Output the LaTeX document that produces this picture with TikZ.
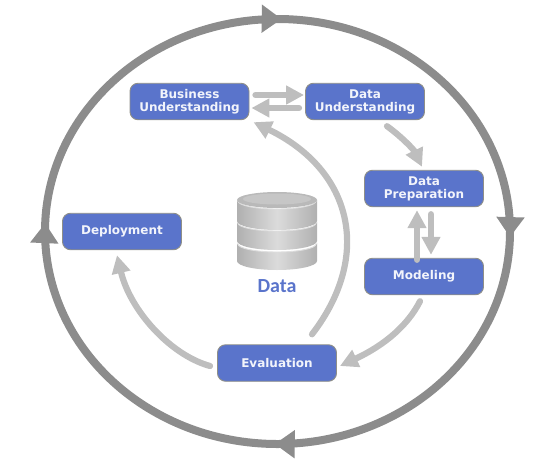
\documentclass[tikz,border=0pt]{standalone}
\usepackage{fontspec}
\setmainfont{DejaVu Sans}
\newfontfamily\datafont{Carlito}
\usepackage{tikz}
\usetikzlibrary{arrows.meta, calc, decorations.markings}
\definecolor{boxblue}{HTML}{5A74CB}
\definecolor{boxedge}{HTML}{8F8F88}
\definecolor{ringgray}{HTML}{8C8C8C}
\definecolor{flowgray}{HTML}{BEBEBE}
\tikzset{
  phasebox/.style={draw=boxedge, line width=0.9pt, fill=boxblue, rounded corners=8pt,
    minimum width=119pt, minimum height=36.5pt, inner sep=0pt, align=center,
    text=white!92!boxblue, font=\fontsize{12}{13}\selectfont\bfseries},
  flowarrow/.style={draw=flowgray, line width=6.2pt, line cap=round,
    -{Triangle[length=18pt,width=18pt,fill=flowgray]}},
  ringtip/.style={decoration={markings,
    mark=at position 0.004 with {\arrow{Triangle[length=20pt,width=27pt,ringgray]}},
    mark=at position 0.252 with {\arrow{Triangle[length=20pt,width=27pt,ringgray]}},
    mark=at position 0.506 with {\arrow{Triangle[length=20pt,width=27pt,ringgray]}},
    mark=at position 0.753 with {\arrow{Triangle[length=20pt,width=27pt,ringgray]}}},
    postaction={decorate}},
  diskside/.style={left color=gray!62, right color=gray!62, middle color=gray!28},
}
\begin{document}
\begin{tikzpicture}[x=1pt,y=-1pt]
\useasboundingbox (0,0) rectangle (545,471);
% Outer cycle
\draw[ringgray, line width=8pt, ringtip] (510,231.5) arc[start angle=0, end angle=360, x radius=232.5, y radius=212.5];
% Database stack
\foreach \top/\bottom in {243/261,222/241,200/221} {
  \fill[white] (236,\top-2) rectangle (318,\bottom);
  \path[diskside] (237,\top) -- (237,\bottom) arc[start angle=180, end angle=0, x radius=40, y radius=9] -- (317,\top) arc[start angle=0, end angle=180, x radius=40, y radius=9] -- cycle;
  \draw[white!75!gray, line width=0.9pt] (238,\top+1) arc[start angle=180, end angle=0, x radius=39, y radius=8];
}
\path[fill=gray!55] (277,200) ellipse[x radius=40, y radius=8];
\path[fill=gray!45] (277,199) ellipse[x radius=34, y radius=5.5];
\node[font=\fontsize{20}{20}\selectfont\bfseries\datafont, text=boxblue] (datalabel) at (277,286.5) {Data};
% Phases
\node[phasebox] (business) at (189.5,101.5) {Business\\Understanding};
\node[phasebox] (understanding) at (365,101.5) {Data\\Understanding};
\node[phasebox] (preparation) at (424,188.5) {Data\\Preparation};
\node[phasebox] (modeling) at (424,276.5) {Modeling};
\node[phasebox] (evaluation) at (277,363) {Evaluation};
\node[phasebox] (deployment) at (122,231.5) {Deployment};
% Flow between phases
\draw[flowarrow] ([xshift=6pt,yshift=6.5pt]business.east) -- ([xshift=-1pt,yshift=6.5pt]understanding.west);
\draw[flowarrow] ([xshift=-6pt,yshift=-6.5pt]understanding.west) -- ([xshift=2pt,yshift=-6.5pt]business.east);
\draw[flowarrow] ([xshift=22pt,yshift=-6pt]understanding.south) .. controls (402,137) and (414,150) .. ([xshift=-2pt,yshift=3pt]preparation.north);
\draw[flowarrow] ([xshift=7pt,yshift=-7pt]preparation.south) -- ([xshift=7pt,yshift=3pt]modeling.north);
\draw[flowarrow] ([xshift=-7pt,yshift=-2pt]modeling.north) -- ([xshift=-7pt,yshift=-3pt]preparation.south);
\draw[flowarrow] ([xshift=-4pt,yshift=-6pt]modeling.south) .. controls (408,325) and (385,345) .. ([xshift=3pt,yshift=-3pt]evaluation.east);
\draw[flowarrow] ([xshift=35pt,yshift=10pt]evaluation.north) .. controls (373,255) and (352,170) .. ([xshift=64pt,yshift=-2pt]business.south);
\draw[flowarrow] ([xshift=-7pt,yshift=-3pt]evaluation.west) .. controls (170,355) and (130,310) .. ([xshift=-5pt,yshift=-5pt]deployment.south);
\end{tikzpicture}
\end{document}
